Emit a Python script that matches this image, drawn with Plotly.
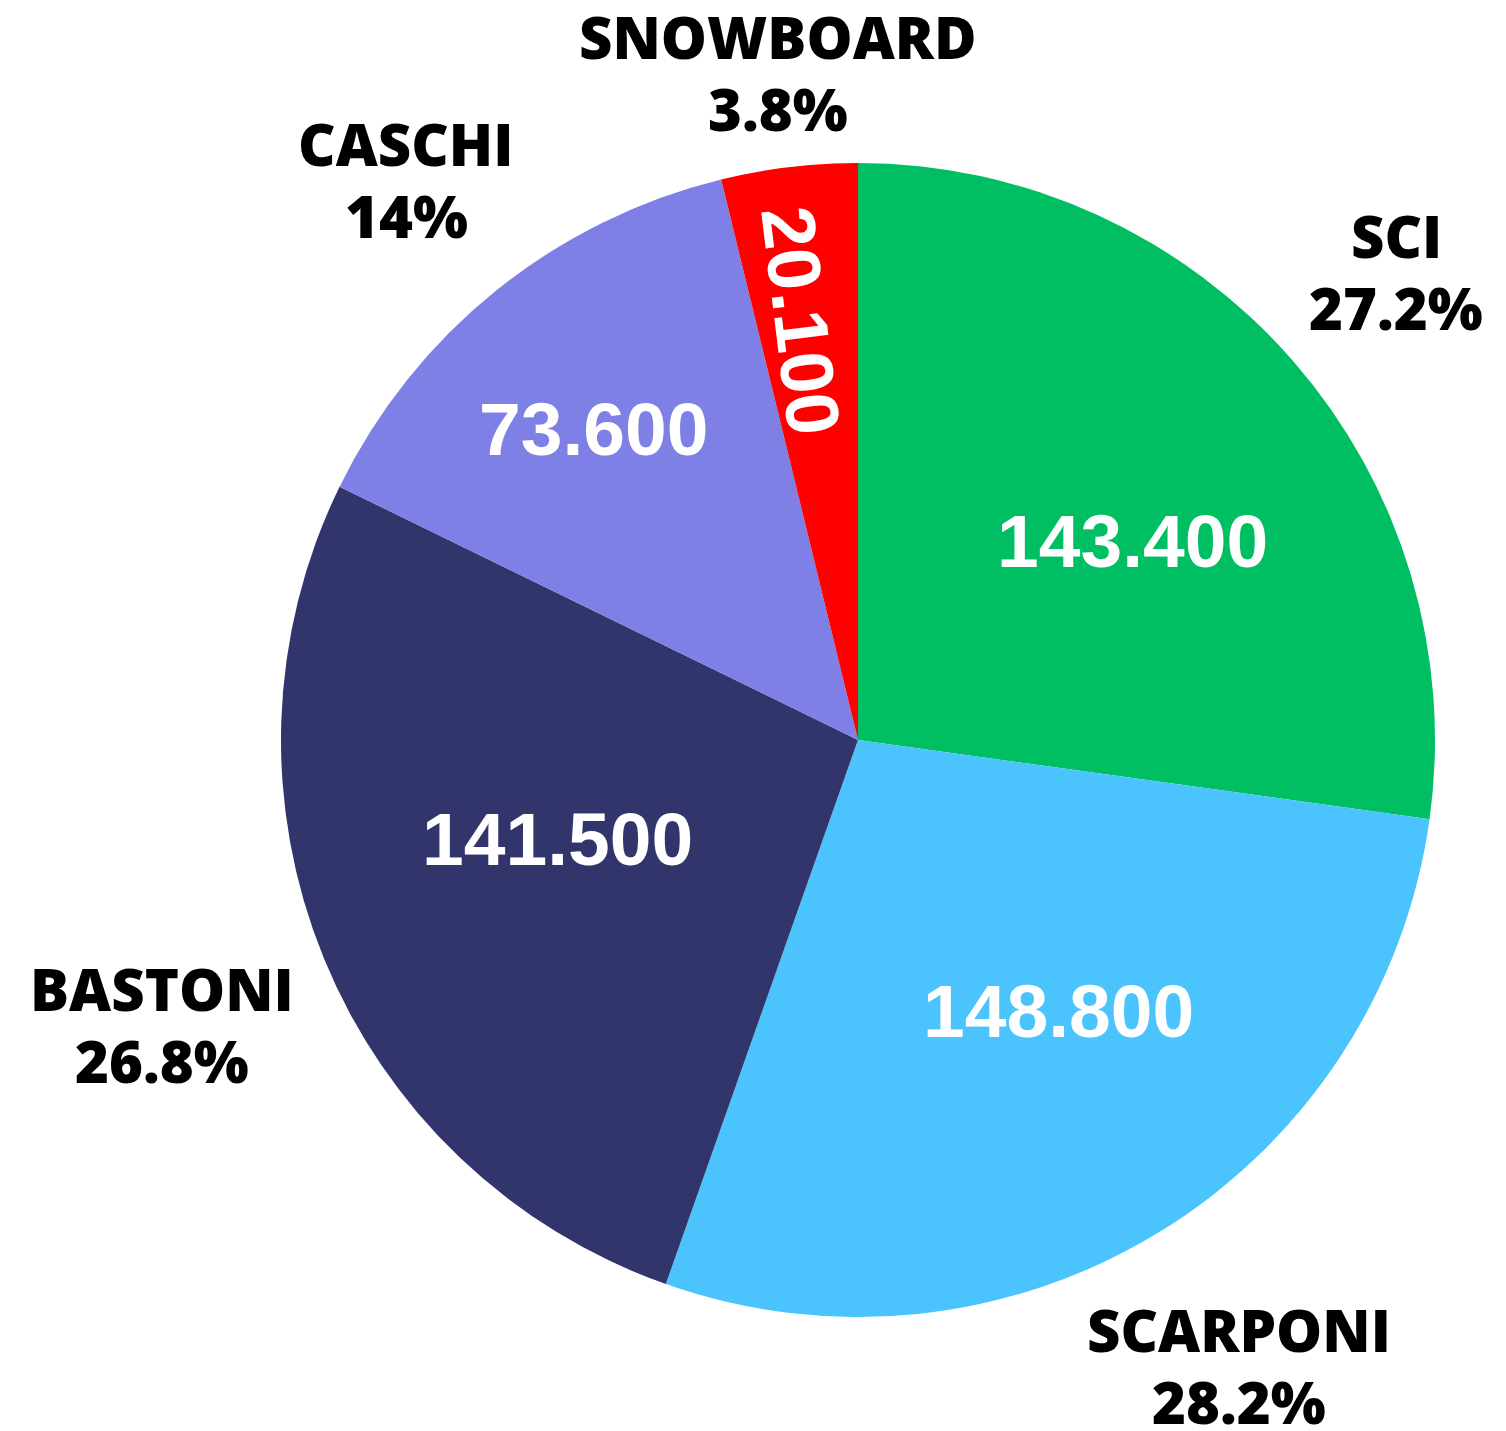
import math
import plotly.graph_objects as go

# Sales by product category
categories = ["SCI", "SCARPONI", "BASTONI", "CASCHI", "SNOWBOARD"]
values = [143400, 148800, 141500, 73600, 20100]
percent_labels = ["27.2%", "28.2%", "26.8%", "14%", "3.8%"]

colors = ["#00BF63", "#4BC4FE", "#32356C", "#7F80E6", "#FF0000"]

# label placement, in pie radii and degrees relative to each slice's mid angle
name_radius = [1.237, 1.270, 1.303, 1.248, 1.165]
value_radius = [0.588, 0.585, 0.5475, 0.708, 0.733]
value_shift = [5.2, -5.2, 4.0, -1.6, -0.9]
value_angle = [0, 0, 0, 0, 83]  # the thin slice gets a radial label

W, H = 1506, 1431
CX, CY, R = 858, 691, 577  # pie centre (px from left / bottom) and radius
LINE_GAP = 36  # half the spacing between name and share lines


def thousands(v):
    return f"{v:,}".replace(",", ".")


def to_paper(theta_deg, dist):
    t = math.radians(theta_deg)
    return (CX + dist * math.sin(t)) / W, (CY + dist * math.cos(t)) / H


fig = go.Figure(
    go.Pie(
        labels=categories,
        values=values,
        textinfo="none",
        marker=dict(colors=colors, line=dict(width=0)),
        sort=False,
        direction="clockwise",
        rotation=0,
        showlegend=False,
        hoverinfo="label+value+percent",
        domain=dict(x=[(CX - R) / W, (CX + R) / W], y=[(CY - R) / H, (CY + R) / H]),
    )
)

total = sum(values)
cum = 0.0
for i, (name, v, pct) in enumerate(zip(categories, values, percent_labels)):
    mid = (cum + v / 2) / total * 360.0
    cum += v

    # value inside the slice
    vx, vy = to_paper(mid + value_shift[i], value_radius[i] * R)
    fig.add_annotation(
        x=vx, y=vy, xref="paper", yref="paper",
        text=thousands(v), showarrow=False, textangle=value_angle[i],
        xanchor="center", yanchor="middle",
        font=dict(family="Liberation Sans, Arial", size=75, color="white", weight="bold"),
    )

    # category name and share outside the slice
    lx, ly = to_paper(mid, name_radius[i] * R)
    for txt, dy in ((name, LINE_GAP), (pct, -LINE_GAP)):
        fig.add_annotation(
            x=lx, y=ly + dy / H, xref="paper", yref="paper",
            text=txt, showarrow=False,
            xanchor="center", yanchor="middle",
            font=dict(family="Open Sans", size=58, color="black", weight=800),
        )

fig.update_layout(
    width=W, height=H,
    margin=dict(l=0, r=0, t=0, b=0),
    paper_bgcolor="white", plot_bgcolor="white",
)

fig.write_html("out.html")
